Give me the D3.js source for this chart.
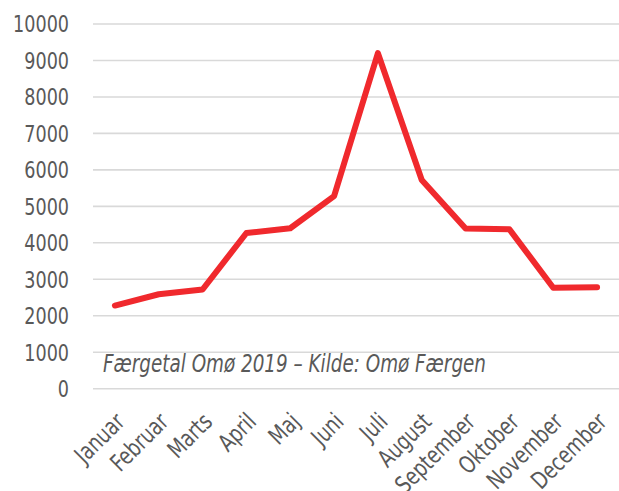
<!DOCTYPE html>
<html>
<head>
<meta charset="utf-8">
<script src="https://cdn.jsdelivr.net/npm/d3@7"></script>
<style>
  body { margin: 0; background: #fff; }
  svg { display: block; font-family: "DejaVu Sans Condensed", "DejaVu Sans", sans-serif; }
</style>
</head>
<body>
<svg class="chart"></svg>
<script>
const months = ['Januar', 'Februar', 'Marts', 'April', 'Maj', 'Juni', 'Juli',
  'August', 'September', 'Oktober', 'November', 'December'];
const passengers = [2280, 2590, 2720, 4270, 4400, 5280, 9200, 5720, 4390, 4370, 2770, 2780];
const yTicks = [0, 1000, 2000, 3000, 4000, 5000, 6000, 7000, 8000, 9000, 10000];
const note = 'Færgetal Omø 2019 – Kilde: Omø Færgen';

const startApp = () => {
  const width = 619;
  const height = 491;
  const squeeze = 0.85; // narrow the font, no condensed face installed
  const svg = d3.select('.chart').attr('width', width).attr('height', height);

  const x = d3.scaleBand().domain(months).range([93, 619]);
  const y = d3.scaleLinear().domain([0, 10000]).range([388.7, 24]);
  const cx = d => x(d) + x.bandwidth() / 2;

  // gridlines
  svg.append('g')
    .selectAll('line')
    .data(yTicks)
    .enter()
    .append('line')
    .attr('x1', 93)
    .attr('x2', 619)
    .attr('y1', d => y(d))
    .attr('y2', d => y(d))
    .attr('stroke', '#d9d9d9')
    .attr('stroke-width', 1.6);

  // y labels
  svg.append('g')
    .selectAll('text')
    .data(yTicks)
    .enter()
    .append('text')
    .attr('transform', d => `translate(69,${y(d)}) scale(${squeeze},1)`)
    .attr('dy', '0.36em')
    .attr('text-anchor', 'end')
    .attr('font-size', 23)
    .attr('fill', '#595959')
    .text(d => d);

  // x labels
  svg.append('g')
    .selectAll('text')
    .data(months)
    .enter()
    .append('text')
    .attr('transform', d => `translate(${cx(d) + 5},${417}) rotate(-45) scale(${squeeze},1)`)
    .attr('text-anchor', 'end')
    .attr('dy', '0.36em')
    .attr('font-size', 24)
    .attr('fill', '#595959')
    .text(d => d);

  // note
  svg.append('text')
    .attr('transform', `translate(103,372) scale(${squeeze},1)`)
    .attr('font-size', 24)
    .attr('font-style', 'italic')
    .attr('fill', '#595959')
    .text(note);

  const line = d3.line()
    .x((d, i) => cx(months[i]))
    .y(d => y(d));

  svg.append('path')
    .datum(passengers)
    .attr('d', line)
    .attr('fill', 'none')
    .attr('stroke', '#f0292d')
    .attr('stroke-width', 6)
    .attr('stroke-linejoin', 'round')
    .attr('stroke-linecap', 'round');
};

window.onload = startApp;
</script>
</body>
</html>
